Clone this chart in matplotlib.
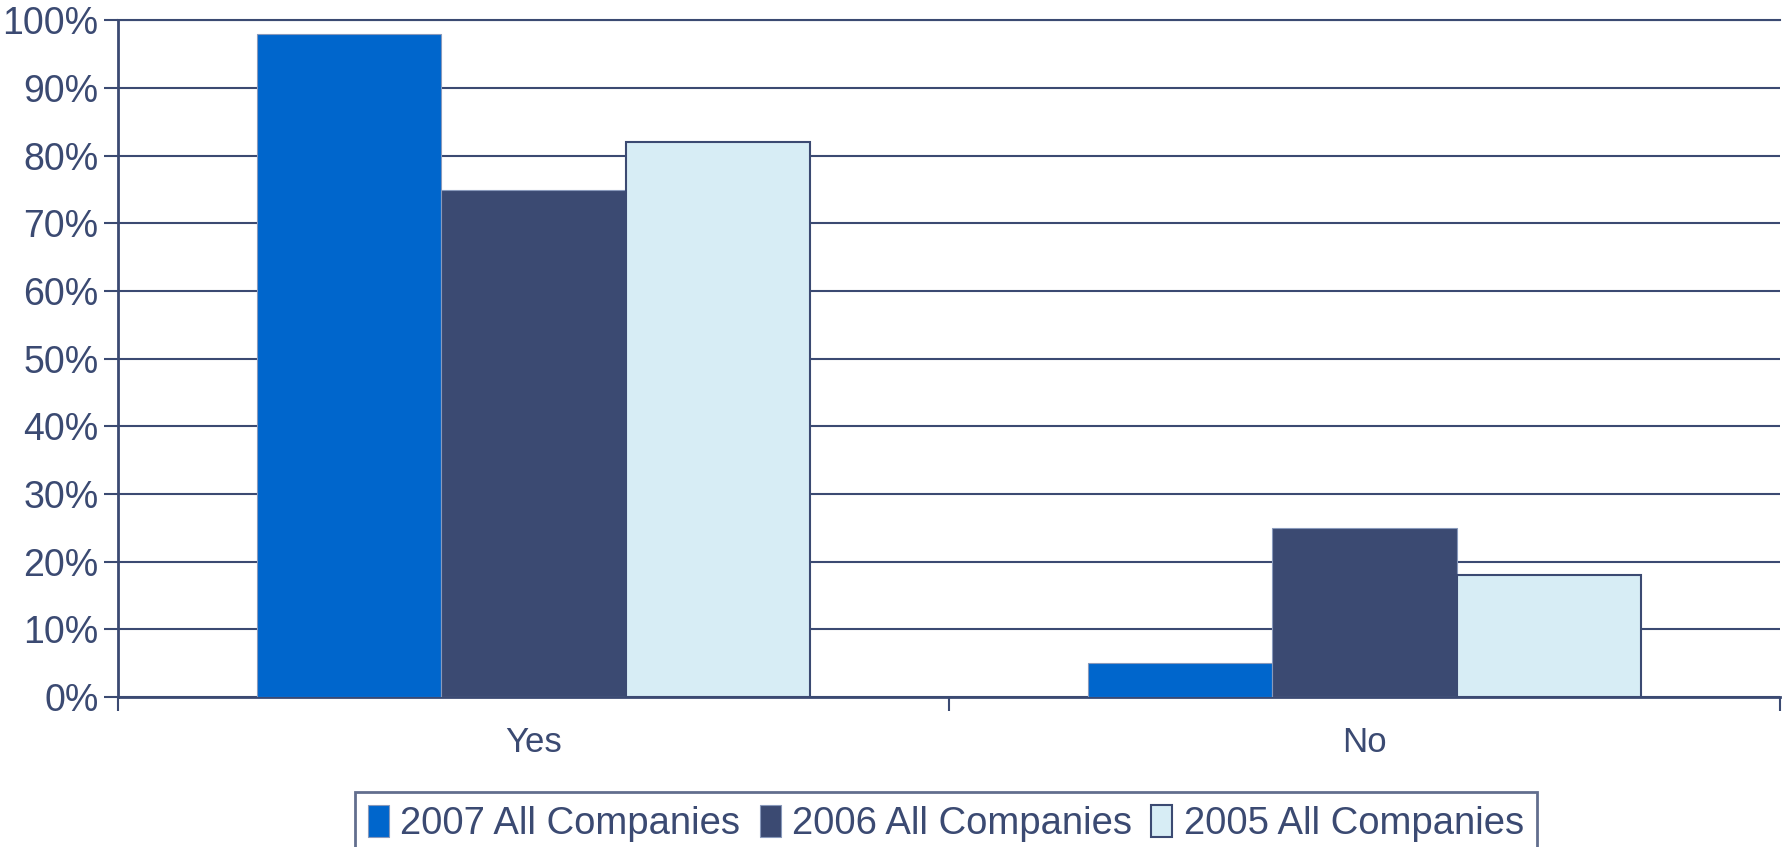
import matplotlib
matplotlib.use("Agg")
import matplotlib.pyplot as plt
import numpy as np

# ── Data ──────────────────────────────────────────────────────────────────
CATEGORIES = ["Yes", "No"]
SERIES = ["2007 All Companies", "2006 All Companies", "2005 All Companies"]
V2007 = [98, 5]
V2006 = [75, 25]
V2005 = [82, 18]

# ── Style ─────────────────────────────────────────────────────────────────
NAVY  = "#3B4A72"
BLUE  = "#0066CC"
LIGHT = "#D7EDF5"
COLORS = [BLUE, NAVY, LIGHT]
plt.rcParams["font.family"] = ["Liberation Sans", "DejaVu Sans"]

fig = plt.figure(figsize=(17.83, 8.47), dpi=100)
ax = fig.add_axes([0.0662, 0.177, 0.932, 0.799])

x = np.arange(len(CATEGORIES))
w = 0.222
for i, (vals, name, col) in enumerate(zip([V2007, V2006, V2005], SERIES, COLORS)):
    ax.bar(x + (i - 1) * w, vals, width=w, color=col, label=name,
           edgecolor=NAVY if col == LIGHT else "#8899BB",
           linewidth=1.5 if col == LIGHT else 0.8, zorder=3)

ax.set_xlim(-0.5, 1.5)
ax.set_ylim(0, 100)
ax.set_yticks(range(0, 101, 10))
ax.set_yticklabels([f"{v}%" for v in range(0, 101, 10)])
ax.yaxis.grid(True, color=NAVY, linewidth=1.5, zorder=1)
ax.set_axisbelow(True)

ax.set_xticks(x)
ax.set_xticklabels(CATEGORIES)
ax.set_xticks([-0.5, 0.5, 1.5], minor=True)
ax.tick_params(axis="x", which="major", length=0, pad=21, labelsize=25, labelcolor=NAVY)
ax.tick_params(axis="x", which="minor", length=10, width=1.5, color=NAVY)
ax.tick_params(axis="y", length=10, width=1.5, color=NAVY, labelsize=27,
               labelcolor=NAVY, pad=4)

ax.spines["right"].set_visible(False)
for s in ["left", "bottom", "top"]:
    ax.spines[s].set_color(NAVY)
    ax.spines[s].set_linewidth(2 if s != "top" else 1.5)

leg = fig.legend(loc="lower center", bbox_to_anchor=(0.5305, -0.033), ncol=3,
                 frameon=True, fancybox=False, fontsize=27.5, handlelength=0.55,
                 handleheight=0.9, handletextpad=0.3, columnspacing=0.5,
                 borderpad=0.35, labelcolor=NAVY)
leg.get_frame().set_edgecolor(NAVY)
leg.get_frame().set_linewidth(2)

fig.savefig("out.png", dpi=100, facecolor="white")
